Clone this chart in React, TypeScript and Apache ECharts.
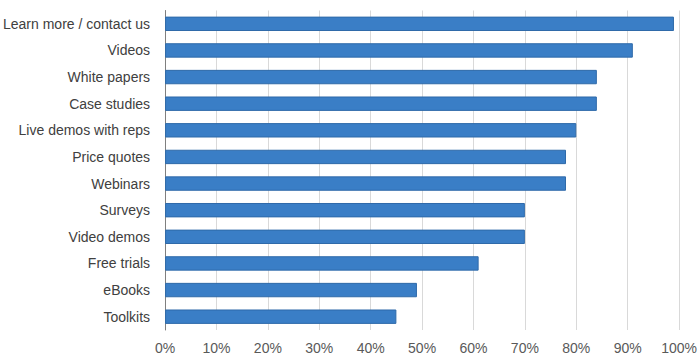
import React, { useEffect, useRef } from "react";
import * as echarts from "echarts";

const categories = [
  "Learn more / contact us",
  "Videos",
  "White papers",
  "Case studies",
  "Live demos with reps",
  "Price quotes",
  "Webinars",
  "Surveys",
  "Video demos",
  "Free trials",
  "eBooks",
  "Toolkits",
];
const values = [99, 91, 84, 84, 80, 78, 78, 70, 70, 61, 49, 45];

export default function App() {
  const ref = useRef<HTMLDivElement>(null);
  useEffect(() => {
    if (!ref.current) return;
    const chart = echarts.init(ref.current, undefined, { renderer: "svg" });
    chart.setOption({
      animation: false,
      backgroundColor: "#ffffff",
      grid: { left: 162.5, right: 19, top: 10.5, bottom: 33, containLabel: false },
      xAxis: {
        type: "value",
        min: 0,
        max: 100,
        interval: 10,
        axisLabel: {
          formatter: "{value}%",
          color: "#595959",
          fontSize: 14,
          fontFamily: "Liberation Sans, Arial, sans-serif",
          margin: 11,
        },
        axisLine: { show: false },
        axisTick: { show: false },
        splitLine: { show: true, lineStyle: { color: "#d9d9d9", width: 1 } },
      },
      yAxis: {
        type: "category",
        data: categories,
        inverse: true,
        axisLine: { show: true, lineStyle: { color: "#7f7f7f", width: 1 } },
        axisTick: { show: false },
        axisLabel: {
          color: "#404040",
          fontSize: 14,
          fontFamily: "Liberation Sans, Arial, sans-serif",
          margin: 15,
        },
        splitLine: { show: false },
      },
      series: [
        {
          type: "bar",
          data: values,
          barCategoryGap: "46%",
          itemStyle: { color: "#3a7ec6", borderColor: "#2f6aa9", borderWidth: 1 },
        },
      ],
    });
    return () => chart.dispose();
  }, []);
  return (
    <div
      ref={ref}
      style={{ position: "fixed", left: 0, top: 0, width: 700, height: 363, background: "#fff" }}
    />
  );
}
